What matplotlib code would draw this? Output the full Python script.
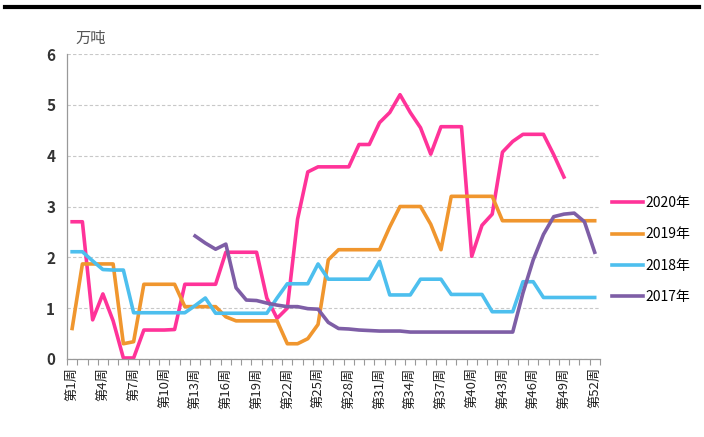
import numpy as np
import matplotlib
matplotlib.use("Agg")
import matplotlib.pyplot as plt
from matplotlib.lines import Line2D

plt.rcParams['font.family'] = ['Noto Sans CJK SC', 'DejaVu Sans']

weeks = list(range(1, 53))
label_weeks = list(range(1, 53, 3))
week_labels = ['第%d周' % w for w in label_weeks]

y2020 = [2.7, 2.7, 0.77, 1.28, 0.75, 0.02, 0.02, 0.57, 0.57, 0.57,
         0.58, 1.47, 1.47, 1.47, 1.47, 2.1, 2.1, 2.1, 2.1, 1.2,
         0.8, 1.0, 2.75, 3.68, 3.78, 3.78, 3.78, 3.78, 4.22, 4.22,
         4.65, 4.85, 5.2, 4.85, 4.55, 4.03, 4.57, 4.57, 4.57, 2.02,
         2.63, 2.85, 4.07, 4.28, 4.42, 4.42, 4.42, 4.02, 3.58]
y2019 = [0.6, 1.87, 1.87, 1.87, 1.87, 0.3, 0.34, 1.47, 1.47, 1.47,
         1.47, 1.03, 1.03, 1.03, 1.03, 0.83, 0.75, 0.75, 0.75, 0.75,
         0.75, 0.3, 0.3, 0.4, 0.68, 1.95, 2.15, 2.15, 2.15, 2.15,
         2.15, 2.6, 3.0, 3.0, 3.0, 2.65, 2.15, 3.2, 3.2, 3.2,
         3.2, 3.2, 2.72, 2.72, 2.72, 2.72, 2.72, 2.72, 2.72, 2.72,
         2.72, 2.72]
y2018 = [2.11, 2.11, 1.93, 1.76, 1.75, 1.75, 0.91, 0.91, 0.91, 0.91,
         0.91, 0.91, 1.05, 1.2, 0.9, 0.9, 0.9, 0.9, 0.9, 0.9,
         1.2, 1.48, 1.48, 1.48, 1.87, 1.57, 1.57, 1.57, 1.57, 1.57,
         1.92, 1.26, 1.26, 1.26, 1.57, 1.57, 1.57, 1.27, 1.27, 1.27,
         1.27, 0.93, 0.93, 0.93, 1.52, 1.52, 1.21, 1.21, 1.21, 1.21,
         1.21, 1.21]
y2017 = [2.42, 2.28, 2.16, 2.26, 1.4, 1.16, 1.15, 1.1, 1.06, 1.03,
         1.03, 0.99, 0.98, 0.72, 0.6, 0.59, 0.57, 0.56, 0.55, 0.55,
         0.55, 0.53, 0.53, 0.53, 0.53, 0.53, 0.53, 0.53, 0.53, 0.53,
         0.53, 0.53, 1.3, 1.95, 2.45, 2.8, 2.85, 2.87, 2.7, 2.1]
start2017 = 13

fig = plt.figure(figsize=(7.04, 4.37), dpi=100)
ax = fig.add_axes([0.0952, 0.1785, 0.7568, 0.6979])

ax.plot(weeks[:len(y2020)], y2020, color='#FF3399', lw=2.6, label='2020年')
ax.plot(weeks[:len(y2019)], y2019, color='#F0962E', lw=2.6, label='2019年')
ax.plot(weeks[:len(y2018)], y2018, color='#4DBFEE', lw=2.6, label='2018年')
ax.plot(weeks[start2017 - 1:start2017 - 1 + len(y2017)], y2017, color='#7E5EA6', lw=2.6, label='2017年')

ax.set_xlim(0.5, 52.5)
ax.set_ylim(0, 6)
ax.set_yticks(range(0, 7))
ax.tick_params(axis='y', length=0, labelsize=11, pad=8.5, colors='#333333')
for t in ax.get_yticklabels():
    t.set_fontweight('bold')
ax.yaxis.grid(True, ls=(0, (3, 2)), color='#C8C8C8', lw=0.8)
ax.set_axisbelow(True)

ax.set_xticks(np.arange(0.5, 53, 1))
ax.set_xticklabels([])
ax.tick_params(axis='x', which='major', length=4, color='#999999', width=0.8)
ax.set_xticks(label_weeks, week_labels, minor=True)
ax.tick_params(axis='x', which='minor', length=0, pad=6, labelsize=9.5, rotation=90,
               colors='#222222')

for s in ['top', 'right']:
    ax.spines[s].set_visible(False)
for s in ['left', 'bottom']:
    ax.spines[s].set_color('#999999')
    ax.spines[s].set_linewidth(0.9)

fig.text(75 / 704, 1 - 38 / 437, '万吨', fontsize=11, color='#555555', va='center')

leg = ax.legend(loc='center left', bbox_to_anchor=(1.0, 0.357), frameon=False,
                fontsize=10, handlelength=2.2, handletextpad=0.2, labelspacing=1.25)

fig.add_artist(Line2D([5 / 704, 699 / 704], [1 - 7 / 437, 1 - 7 / 437], color='black', lw=3))

fig.savefig('out.png', dpi=100)
